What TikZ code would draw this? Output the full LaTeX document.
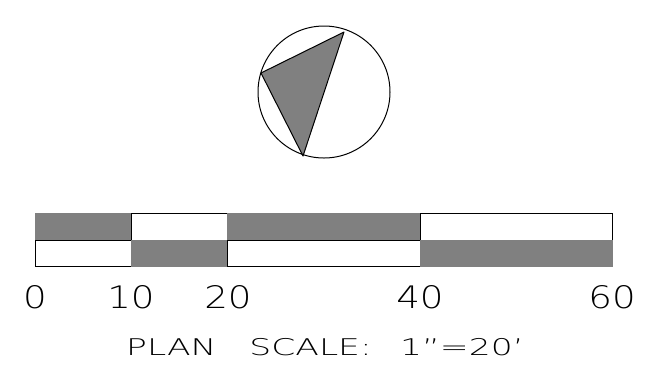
\documentclass[tikz,border=0pt]{standalone}
\usepackage{fontspec}
\setmainfont{DejaVu Sans ExtraLight}
\begin{document}
\begin{tikzpicture}[x=1pt,y=-1pt,
  cellw/.style={draw=black,line width=1pt,fill=white},
  cellg/.style={fill=scalegray,draw=scalegray,line width=1pt},
  numlbl/.style={anchor=base,inner sep=0pt,font=\fontsize{31}{31}\selectfont},
  ttl/.style={anchor=base,inner sep=0pt,font=\fontsize{23}{23}\selectfont}]
\definecolor{scalegray}{HTML}{808080}
\useasboundingbox (0,0) rectangle (658,368);
% north arrow
\coordinate (tA) at (344,32);
\coordinate (tB) at (261,73);
\coordinate (tC) at (303,156);
\filldraw[fill=scalegray,draw=black,line width=1pt,line join=round] (tA) -- (tB) -- (tC) -- cycle;
\node[circle,draw=black,line width=1pt,minimum size=132pt,inner sep=0pt] (circ) at (324,92) {};
% scale bar
\path[cellg] (35,213) rectangle (131,240);
\path[cellw] (131,213) rectangle (227,240);
\path[cellg] (227,213) rectangle (420,240);
\path[cellw] (420,213) rectangle (612,240);
\path[cellw] (35,240) rectangle (131,266);
\path[cellg] (131,240) rectangle (227,266);
\path[cellw] (227,240) rectangle (420,266);
\path[cellg] (420,240) rectangle (612,266);
% labels
\node[numlbl] (n0) at (35,308) {\scalebox{1.2}[1]{0}};
\node[numlbl] (n10) at (131,308) {\scalebox{1.2}[1]{10}};
\node[numlbl] (n20) at (228,308) {\scalebox{1.2}[1]{20}};
\node[numlbl] (n40) at (420,308) {\scalebox{1.2}[1]{40}};
\node[numlbl] (n60) at (612,308) {\scalebox{1.2}[1]{60}};
\node[ttl] (title) at (325,355) {\scalebox{1.5}[1]{PLAN\hspace{22pt}SCALE:\hspace{19pt}1”=20’}};
\end{tikzpicture}
\end{document}
